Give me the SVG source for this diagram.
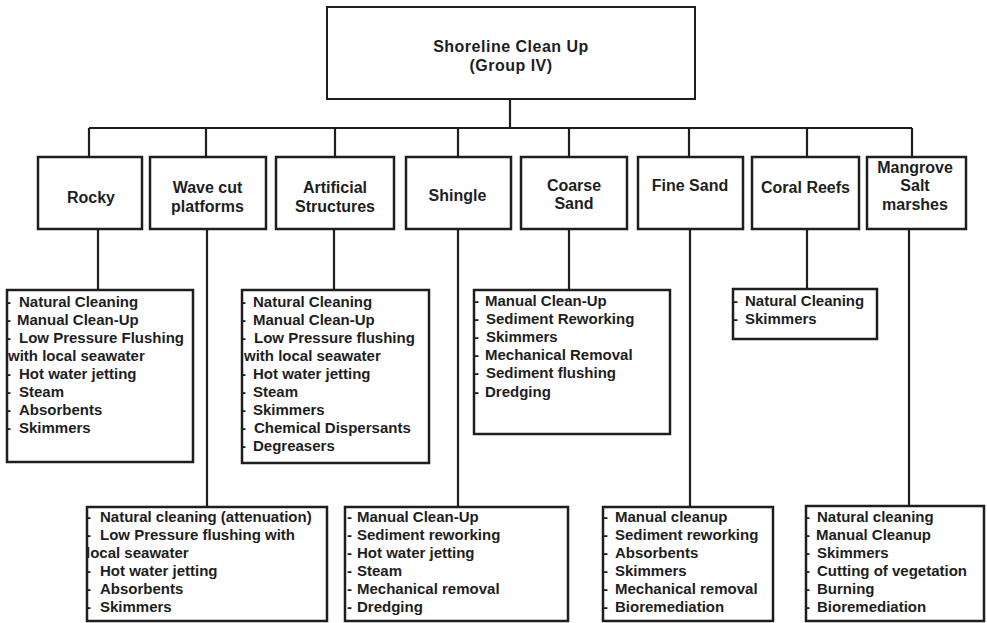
<svg xmlns="http://www.w3.org/2000/svg" width="987" height="623" viewBox="0 0 987 623">
<style>
.bg{fill:#ffffff}
.box{fill:#ffffff;stroke:#1e1e1e;stroke-width:2.5}
.conn{fill:none;stroke:#1e1e1e;stroke-width:2.2}
.t{font-family:"Liberation Sans",Arial,sans-serif;font-weight:bold;fill:#1e1e1e}
.title{font-size:16px;letter-spacing:0.5px;text-anchor:middle}
.node{font-size:16px;text-anchor:middle}
.item{font-size:15px}
</style>
<rect class="bg" x="0" y="0" width="987" height="623"/>
<g id="connectors">
<path class="conn" d="M510,99 V128 M89,128 H912"/>
<path class="conn" d="M89,128 V157 M206,128 V157 M335,128 V157 M458,128 V157 M569,128 V157 M689,128 V157 M807,128 V157 M912,128 V157"/>
<path class="conn" d="M98,229 V290 M207,229 V507 M334,229 V290 M458,229 V507 M569,229 V290 M690,229 V507 M807,229 V289 M909,229 V506"/>
</g>
<g id="root">
<rect class="box" x="327" y="7" width="368" height="92" style="stroke-width:2"/>
<text class="t title" x="511" y="52">Shoreline Clean Up</text>
<text class="t title" x="511" y="71">(Group IV)</text>
</g>
<g id="rocky">
<rect class="box" x="38" y="157" width="104" height="72"/>
<text class="t node" x="91" y="203">Rocky</text>
</g>
<g id="wavecut">
<rect class="box" x="150" y="157" width="116" height="72"/>
<text class="t node" x="207.5" y="193">Wave cut</text>
<text class="t node" x="207.5" y="212">platforms</text>
</g>
<g id="artificial">
<rect class="box" x="276" y="157" width="118" height="72"/>
<text class="t node" x="335" y="193">Artificial</text>
<text class="t node" x="335" y="212">Structures</text>
</g>
<g id="shingle">
<rect class="box" x="406" y="157" width="105" height="72"/>
<text class="t node" x="457.5" y="201">Shingle</text>
</g>
<g id="coarsesand">
<rect class="box" x="521" y="157" width="106" height="72"/>
<text class="t node" x="574" y="191">Coarse</text>
<text class="t node" x="574" y="209">Sand</text>
</g>
<g id="finesand">
<rect class="box" x="638" y="157" width="105" height="72"/>
<text class="t node" x="690" y="191">Fine Sand</text>
</g>
<g id="coralreefs">
<rect class="box" x="752" y="157" width="107" height="72"/>
<text class="t node" x="805.5" y="193">Coral Reefs</text>
</g>
<g id="mangrove">
<rect class="box" x="867" y="157" width="99" height="72"/>
<text class="t node" x="915" y="173">Mangrove</text>
<text class="t node" x="915" y="191">Salt</text>
<text class="t node" x="915" y="210">marshes</text>
</g>
<g id="rocky-methods">
<rect class="box" x="7" y="290" width="186" height="172"/>
<text class="t item" y="307"><tspan x="6">-</tspan><tspan x="19">Natural Cleaning</tspan></text>
<text class="t item" y="325"><tspan x="6">-</tspan><tspan x="17">Manual Clean-Up</tspan></text>
<text class="t item" y="343"><tspan x="6">-</tspan><tspan x="19">Low Pressure Flushing</tspan></text>
<text class="t item" y="361"><tspan x="8">with local seawater</tspan></text>
<text class="t item" y="379"><tspan x="6">-</tspan><tspan x="19">Hot water jetting</tspan></text>
<text class="t item" y="397"><tspan x="6">-</tspan><tspan x="19">Steam</tspan></text>
<text class="t item" y="415"><tspan x="6">-</tspan><tspan x="19">Absorbents</tspan></text>
<text class="t item" y="433"><tspan x="6">-</tspan><tspan x="19">Skimmers</tspan></text>
</g>
<g id="artificial-methods">
<rect class="box" x="242" y="290" width="187" height="173"/>
<text class="t item" y="307"><tspan x="241">-</tspan><tspan x="253">Natural Cleaning</tspan></text>
<text class="t item" y="325"><tspan x="241">-</tspan><tspan x="253">Manual Clean-Up</tspan></text>
<text class="t item" y="343"><tspan x="241">-</tspan><tspan x="254">Low Pressure flushing</tspan></text>
<text class="t item" y="361"><tspan x="244">with local seawater</tspan></text>
<text class="t item" y="379"><tspan x="241">-</tspan><tspan x="253">Hot water jetting</tspan></text>
<text class="t item" y="397"><tspan x="241">-</tspan><tspan x="253">Steam</tspan></text>
<text class="t item" y="415"><tspan x="241">-</tspan><tspan x="253">Skimmers</tspan></text>
<text class="t item" y="433"><tspan x="241">-</tspan><tspan x="254">Chemical Dispersants</tspan></text>
<text class="t item" y="451"><tspan x="241">-</tspan><tspan x="253">Degreasers</tspan></text>
</g>
<g id="coarsesand-methods">
<rect class="box" x="474" y="290" width="196" height="144"/>
<text class="t item" y="306"><tspan x="474">-</tspan><tspan x="485">Manual Clean-Up</tspan></text>
<text class="t item" y="324"><tspan x="474">-</tspan><tspan x="486">Sediment Reworking</tspan></text>
<text class="t item" y="342"><tspan x="474">-</tspan><tspan x="486">Skimmers</tspan></text>
<text class="t item" y="360"><tspan x="474">-</tspan><tspan x="485">Mechanical Removal</tspan></text>
<text class="t item" y="378"><tspan x="474">-</tspan><tspan x="486">Sediment flushing</tspan></text>
<text class="t item" y="397"><tspan x="474">-</tspan><tspan x="485">Dredging</tspan></text>
</g>
<g id="coralreefs-methods">
<rect class="box" x="733" y="289" width="144" height="50"/>
<text class="t item" y="306"><tspan x="733">-</tspan><tspan x="745">Natural Cleaning</tspan></text>
<text class="t item" y="324"><tspan x="733">-</tspan><tspan x="745">Skimmers</tspan></text>
</g>
<g id="wavecut-methods">
<rect class="box" x="87" y="507" width="240" height="114"/>
<text class="t item" y="522"><tspan x="86">-</tspan><tspan x="100">Natural cleaning (attenuation)</tspan></text>
<text class="t item" y="540"><tspan x="86">-</tspan><tspan x="100">Low Pressure flushing with</tspan></text>
<text class="t item" y="558"><tspan x="86">local seawater</tspan></text>
<text class="t item" y="576"><tspan x="86">-</tspan><tspan x="100">Hot water jetting</tspan></text>
<text class="t item" y="594"><tspan x="86">-</tspan><tspan x="100">Absorbents</tspan></text>
<text class="t item" y="612"><tspan x="86">-</tspan><tspan x="100">Skimmers</tspan></text>
</g>
<g id="shingle-methods">
<rect class="box" x="345" y="507" width="223" height="114"/>
<text class="t item" y="522"><tspan x="347">-</tspan><tspan x="357">Manual Clean-Up</tspan></text>
<text class="t item" y="540"><tspan x="347">-</tspan><tspan x="357">Sediment reworking</tspan></text>
<text class="t item" y="558"><tspan x="347">-</tspan><tspan x="357">Hot water jetting</tspan></text>
<text class="t item" y="576"><tspan x="347">-</tspan><tspan x="357">Steam</tspan></text>
<text class="t item" y="594"><tspan x="347">-</tspan><tspan x="357">Mechanical removal</tspan></text>
<text class="t item" y="612"><tspan x="347">-</tspan><tspan x="357">Dredging</tspan></text>
</g>
<g id="finesand-methods">
<rect class="box" x="603" y="507" width="170" height="114"/>
<text class="t item" y="522"><tspan x="603">-</tspan><tspan x="615">Manual cleanup</tspan></text>
<text class="t item" y="540"><tspan x="603">-</tspan><tspan x="615">Sediment reworking</tspan></text>
<text class="t item" y="558"><tspan x="603">-</tspan><tspan x="615">Absorbents</tspan></text>
<text class="t item" y="576"><tspan x="603">-</tspan><tspan x="615">Skimmers</tspan></text>
<text class="t item" y="594"><tspan x="603">-</tspan><tspan x="615">Mechanical removal</tspan></text>
<text class="t item" y="612"><tspan x="603">-</tspan><tspan x="615">Bioremediation</tspan></text>
</g>
<g id="mangrove-methods">
<rect class="box" x="806" y="506" width="178" height="115"/>
<text class="t item" y="522"><tspan x="805">-</tspan><tspan x="817">Natural cleaning</tspan></text>
<text class="t item" y="540"><tspan x="805">-</tspan><tspan x="816">Manual Cleanup</tspan></text>
<text class="t item" y="558"><tspan x="805">-</tspan><tspan x="817">Skimmers</tspan></text>
<text class="t item" y="576"><tspan x="805">-</tspan><tspan x="817">Cutting of vegetation</tspan></text>
<text class="t item" y="594"><tspan x="805">-</tspan><tspan x="817">Burning</tspan></text>
<text class="t item" y="612"><tspan x="805">-</tspan><tspan x="817">Bioremediation</tspan></text>
</g>
</svg>
